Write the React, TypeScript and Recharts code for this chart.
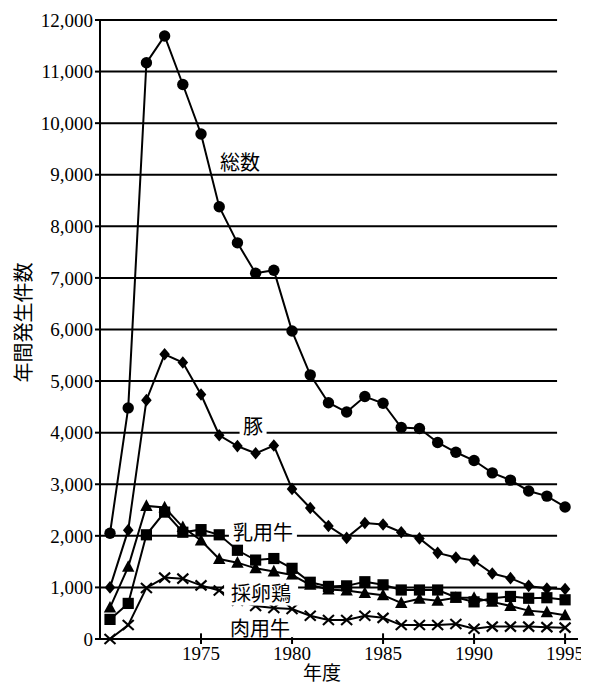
import React from 'react';
import { LineChart, Line, XAxis, YAxis, ReferenceLine, ReferenceDot } from 'recharts';

const years = [1970, 1971, 1972, 1973, 1974, 1975, 1976, 1977, 1978, 1979, 1980, 1981, 1982, 1983, 1984, 1985, 1986, 1987, 1988, 1989, 1990, 1991, 1992, 1993, 1994, 1995];
const total = [2050, 4480, 11170, 11690, 10750, 9790, 8380, 7680, 7090, 7150, 5970, 5120, 4580, 4400, 4700, 4570, 4100, 4080, 3810, 3620, 3460, 3220, 3080, 2870, 2770, 2560];
const pig = [1000, 2110, 4630, 5520, 5360, 4740, 3950, 3740, 3600, 3750, 2910, 2540, 2190, 1960, 2250, 2220, 2070, 1950, 1670, 1580, 1520, 1270, 1180, 1030, 980, 970];
const dairy = [380, 690, 2020, 2460, 2070, 2120, 2020, 1720, 1530, 1560, 1370, 1100, 1020, 1030, 1110, 1050, 950, 950, 950, 810, 720, 790, 825, 790, 800, 760];
const layer = [610, 1400, 2580, 2550, 2170, 1910, 1550, 1480, 1370, 1310, 1240, 1050, 960, 940, 890, 850, 700, 780, 740, 800, 800, 720, 640, 550, 520, 460];
const beef = [0, 270, 990, 1190, 1170, 1040, 940, 740, 640, 600, 580, 450, 370, 370, 450, 410, 270, 270, 270, 290, 200, 240, 240, 240, 230, 220];

const yTicks = [0, 1000, 2000, 3000, 4000, 5000, 6000, 7000, 8000, 9000, 10000, 11000, 12000];
const gridValues = [1000, 2000, 3000, 4000, 5000, 6000, 7000, 8000, 9000, 10000, 11000, 12000];
const xTicks = [1975, 1980, 1985, 1990, 1995];

const seriesLabels = [
  { text: '総数', x: 1977.14, y: 9260, w: 44, h: 20 },
  { text: '豚', x: 1977.86, y: 4130, w: 27, h: 20 },
  { text: '乳用牛', x: 1978.4, y: 2090, w: 68, h: 20 },
  { text: '採卵鶏', x: 1978.3, y: 900, w: 74, h: 26 },
  { text: '肉用牛', x: 1978.24, y: 230, w: 66, h: 20 },
];

const data = years.map((yr, i) => ({
  year: yr,
  total: total[i],
  pig: pig[i],
  dairy: dairy[i],
  layer: layer[i],
  beef: beef[i],
}));

const X_MIN = 1969.45;
const X_MAX = 1995.71;
const GRID_END = 1994.56;

const serif = '"Liberation Serif", "DejaVu Serif", serif';
const cjk = '"Noto Sans CJK JP", sans-serif';

const circleDot = (p: any) => (
  <circle key={`c-${p.index}`} cx={p.cx} cy={p.cy} r={5.7} fill="#000" />
);
const diamondDot = (p: any) => (
  <polygon
    key={`d-${p.index}`}
    points={`${p.cx},${p.cy - 6.3} ${p.cx + 5.3},${p.cy} ${p.cx},${p.cy + 6.3} ${p.cx - 5.3},${p.cy}`}
    fill="#000"
  />
);
const squareDot = (p: any) => (
  <rect key={`s-${p.index}`} x={p.cx - 5.6} y={p.cy - 5.6} width={11.2} height={11.2} fill="#000" />
);
const triangleDot = (p: any) => (
  <polygon
    key={`t-${p.index}`}
    points={`${p.cx},${p.cy - 6.6} ${p.cx + 6.2},${p.cy + 5} ${p.cx - 6.2},${p.cy + 5}`}
    fill="#000"
  />
);
const crossDot = (p: any) => (
  <g key={`x-${p.index}`} stroke="#000" strokeWidth={2.1}>
    <line x1={p.cx - 5.5} y1={p.cy - 5} x2={p.cx + 5.5} y2={p.cy + 5} />
    <line x1={p.cx - 5.5} y1={p.cy + 5} x2={p.cx + 5.5} y2={p.cy - 5} />
  </g>
);

const makeLabelShape = (text: string, w: number, h: number) => (p: any) => (
  <g>
    <rect x={p.cx - w / 2} y={p.cy - h / 2} width={w} height={h} fill="#fff" />
    <text
      x={p.cx}
      y={p.cy}
      textAnchor="middle"
      dominantBaseline="central"
      fontFamily={cjk}
      fontSize={20}
      fill="#000"
    >
      {text}
    </text>
  </g>
);

export default function App() {
  return (
    <LineChart
      width={581}
      height={680}
      data={data}
      margin={{ top: 12, right: 11, left: 0, bottom: 9 }}
    >
      <XAxis
        dataKey="year"
        type="number"
        domain={[X_MIN, X_MAX]}
        ticks={xTicks}
        allowDataOverflow
        height={40}
        tickSize={5}
        tickMargin={3}
        stroke="#000"
        strokeWidth={2}
        tick={{ fill: '#000', fontFamily: serif, fontSize: 19 }}
        label={{
          content: (props: any) => {
            const vb = props.viewBox || { x: 92, y: 631 };
            return (
              <text
                x={vb.x + 222}
                y={vb.y + 32}
                textAnchor="middle"
                dominantBaseline="central"
                fontFamily={cjk}
                fontSize={19}
                fill="#000"
              >
                年度
              </text>
            );
          },
        }}
      />
      <YAxis
        type="number"
        domain={[0, 12000]}
        ticks={yTicks}
        width={92}
        tickSize={5}
        tickMargin={2}
        stroke="#000"
        strokeWidth={2}
        tickFormatter={(v: number) => v.toLocaleString('en-US')}
        tick={{ fill: '#000', fontFamily: serif, fontSize: 19 }}
        label={{
          content: (props: any) => {
            const vb = props.viewBox || { x: 0, y: 12, height: 619 };
            const cx = vb.x + 14;
            const cy = vb.y + vb.height / 2 - 7;
            return (
              <text
                x={cx}
                y={cy}
                transform={`rotate(-90 ${cx} ${cy})`}
                textAnchor="middle"
                dominantBaseline="central"
                fontFamily={cjk}
                fontSize={20}
                fill="#000"
              >
                年間発生件数
              </text>
            );
          },
        }}
      />
      {gridValues.map((v) => (
        <ReferenceLine
          key={`g-${v}`}
          segment={[{ x: X_MIN, y: v }, { x: GRID_END, y: v }]}
          stroke="#000"
          strokeWidth={2}
          ifOverflow="visible"
        />
      ))}
      {xTicks.map((t) => (
        <ReferenceLine
          key={`xt-${t}`}
          segment={[{ x: t, y: 0 }, { x: t, y: 110 }]}
          stroke="#000"
          strokeWidth={2}
          ifOverflow="visible"
        />
      ))}
      <Line dataKey="beef" stroke="#000" strokeWidth={2} dot={crossDot} activeDot={false} isAnimationActive={false} />
      <Line dataKey="layer" stroke="#000" strokeWidth={2} dot={triangleDot} activeDot={false} isAnimationActive={false} />
      <Line dataKey="dairy" stroke="#000" strokeWidth={2} dot={squareDot} activeDot={false} isAnimationActive={false} />
      <Line dataKey="pig" stroke="#000" strokeWidth={2} dot={diamondDot} activeDot={false} isAnimationActive={false} />
      <Line dataKey="total" stroke="#000" strokeWidth={2} dot={circleDot} activeDot={false} isAnimationActive={false} />
      {seriesLabels.map((l) => (
        <ReferenceDot
          key={`lab-${l.text}`}
          x={l.x}
          y={l.y}
          r={0}
          ifOverflow="visible"
          shape={makeLabelShape(l.text, l.w, l.h)}
        />
      ))}
    </LineChart>
  );
}
